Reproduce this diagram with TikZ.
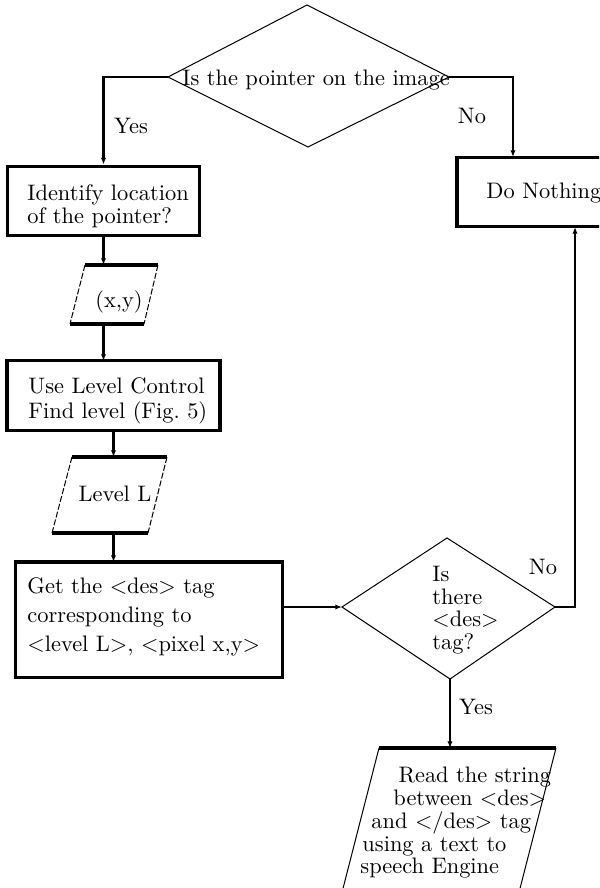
\documentclass[tikz,border=0pt]{standalone}
\usetikzlibrary{arrows.meta}
\begin{document}
\begin{tikzpicture}[x=0.446pt,y=-0.446pt,
  thickl/.style={line width=1.35pt},
  thinl/.style={line width=0.45pt},
  dashl/.style={line width=0.45pt,dash pattern=on 2.7pt off 0.9pt},
  arr/.style={line width=1.1pt,-{Latex[length=3pt,width=2.4pt]}},
  boxnode/.style={draw,thickl,rectangle,inner sep=0pt},
  txt/.style={inner sep=0pt,anchor=west,align=left},
  lbl/.style={inner sep=0pt,font=\fontsize{10}{12}\selectfont}]
\useasboundingbox (0,0) rectangle (599,888);
\clip (0,0) rectangle (599,888);

% top decision
\coordinate (d1n) at (307,5);
\coordinate (d1w) at (168,77);
\coordinate (d1e) at (449,77);
\coordinate (d1s) at (308,147);
\draw[thinl] (d1n) -- (d1e) -- (d1s) -- (d1w) -- cycle;
\node[lbl,anchor=west] (q1) at (182,80) {Is the pointer on the image};

% boxes
\node[boxnode,minimum width=85.2pt,minimum height=31.2pt] (idb) at (103.5,201) {};
\node[txt,font=\fontsize{10}{10.3}\selectfont] (idt) at (27,206.5) {Identify location\\of the pointer?};

\node[boxnode,minimum width=95pt,minimum height=30.8pt] (lvb) at (113.5,395.5) {};
\node[txt,font=\fontsize{10}{11.2}\selectfont] (lvt) at (28,401) {Use Level Control\\Find level (Fig.~5)};

\node[boxnode,minimum width=119.5pt,minimum height=51.3pt] (getb) at (149,619.5) {};
\node[txt,font=\fontsize{10}{12.9}\selectfont] (gett) at (27,617) {Get the $<$des$>$ tag\\corresponding to\\$<$level L$>$, $<$pixel x,y$>$};

\node[boxnode,minimum width=72.7pt,minimum height=31.2pt] (dnb) at (538.5,192) {};
\node[lbl,anchor=west] (dnt) at (486,193) {Do Nothing};

% parallelogram (x,y)
\coordinate (p1tl) at (85,265);
\coordinate (p1tr) at (158,265);
\coordinate (p1bl) at (70,324);
\coordinate (p1br) at (144,324);
\draw[thickl] (p1tl) -- (p1tr);
\draw[thickl] (p1bl) -- (p1br);
\draw[dashl] (p1tl) -- (p1bl);
\draw[dashl] (p1tr) -- (p1br);
\node[lbl] (xyt) at (119,302) {(x,y)};
\coordinate (p1top) at (103.5,265);
\coordinate (p1bot) at (103.5,324);
\coordinate (lvin) at (103.5,361);

% parallelogram Level L
\coordinate (p2tl) at (72,457);
\coordinate (p2tr) at (167,457);
\coordinate (p2bl) at (52,533);
\coordinate (p2br) at (148,533);
\draw[thickl] (p2tl) -- (p2tr);
\draw[thickl] (p2bl) -- (p2br);
\draw[dashl] (p2tl) -- (p2bl);
\draw[dashl] (p2tr) -- (p2br);
\node[lbl] (llt) at (115,494) {Level L};
\coordinate (p2top) at (113.5,457);
\coordinate (p2bot) at (113.5,533);
\coordinate (getin) at (113.5,562);
\coordinate (getout) at (283,607);

% second decision
\coordinate (d2n) at (447,538);
\coordinate (d2w) at (342,607);
\coordinate (d2e) at (555,607);
\coordinate (d2s) at (450,679);
\draw[thinl] (d2n) -- (d2e) -- (d2s) -- (d2w) -- cycle;
\node[txt,font=\fontsize{10}{10.1}\selectfont] (q2) at (432,610) {Is\\there\\$<$des$>$\\tag?};

% final parallelogram
\coordinate (p3tl) at (379,748);
\coordinate (p3tr) at (556,748);
\coordinate (p3bl) at (338,908);
\coordinate (p3br) at (515,908);
\draw[thickl] (p3tl) -- (p3tr);
\draw[thinl] (p3tl) -- (p3bl);
\draw[thinl] (p3tr) -- (p3br);
\coordinate (p3top) at (450,748);
\node[txt,font=\fontsize{10}{10.15}\selectfont] (rt) at (360,823) {\hspace*{17pt}Read the string\\\hspace*{14.7pt}between $<$des$>$\\\hspace*{4.9pt}and $<$/des$>$ tag\\\hspace*{0.9pt}using a text to\\speech Engine};

\coordinate (dnin) at (513,157);
\coordinate (dnout) at (575,227);

% connectors
\draw[arr] (d1w) -| (idb.north);
\draw[arr] (d1e) -| (dnin);
\draw[arr] (idb.south) -- (p1top);
\draw[arr] (p1bot) -- (lvin);
\draw[arr] (lvb.south) -- (p2top);
\draw[arr] (p2bot) -- (getin);
\draw[arr] (getout) -- (d2w);
\draw[arr] (d2e) -| (dnout);
\draw[arr] (d2s) -- (p3top);

% labels
\node[lbl] (yes1) at (131,126) {Yes};
\node[lbl] (no1) at (472,116) {No};
\node[lbl] (no2) at (543,567) {No};
\node[lbl] (yes2) at (476,707) {Yes};
\end{tikzpicture}
\end{document}
